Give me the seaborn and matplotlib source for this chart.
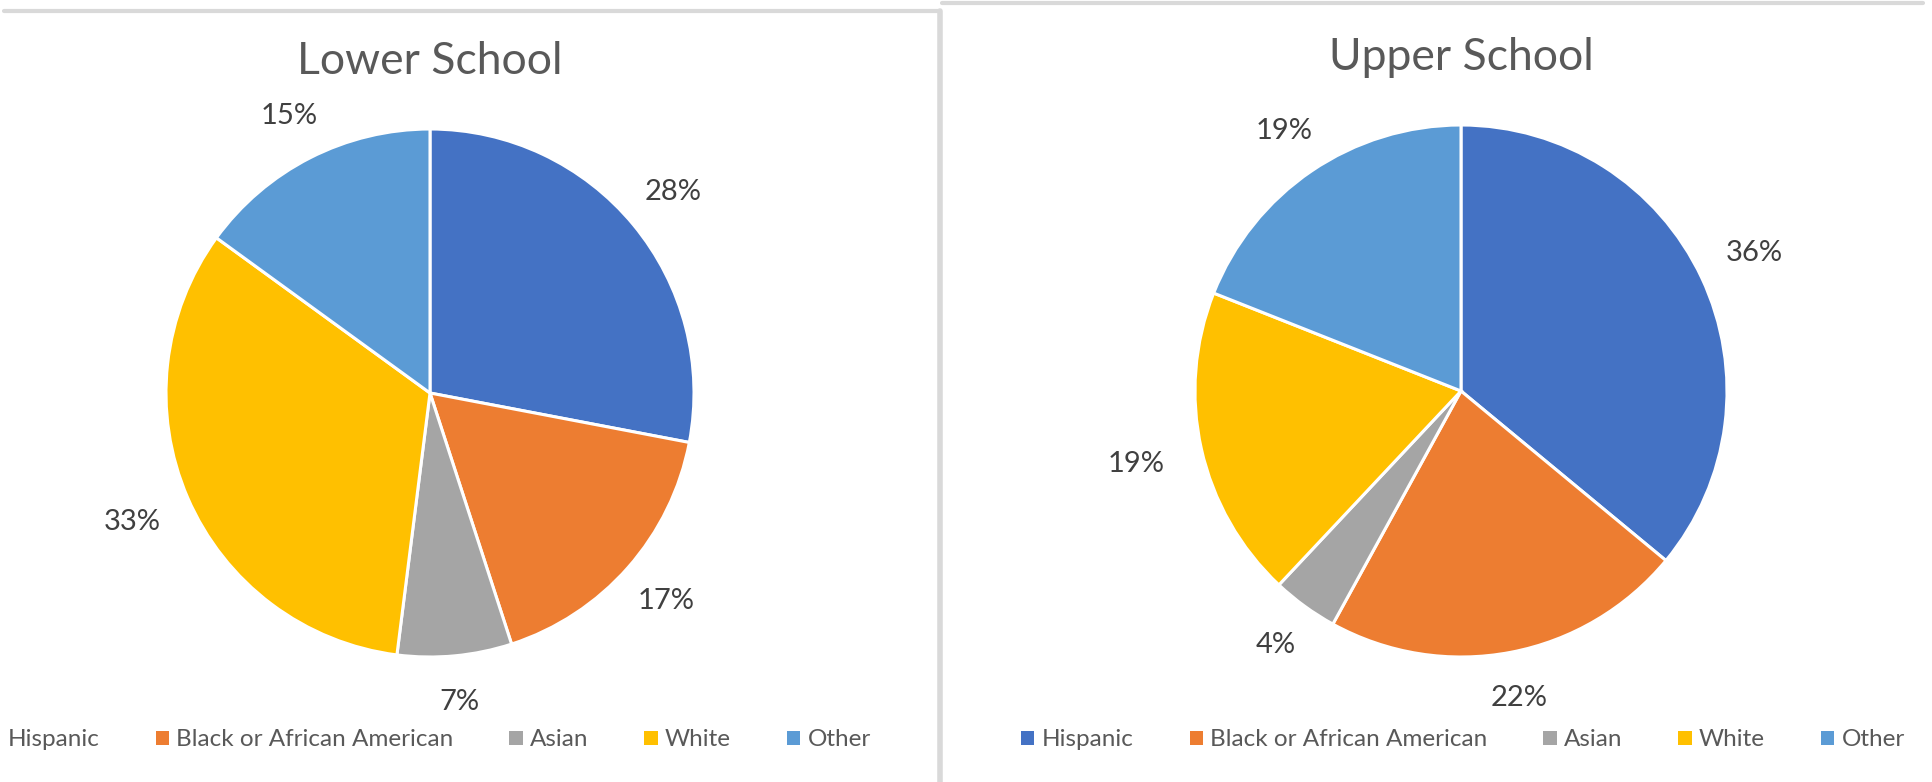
import numpy as np
import matplotlib
matplotlib.use("Agg")
import matplotlib.pyplot as plt
import seaborn as sns
from matplotlib.lines import Line2D
from matplotlib.patches import Patch

sns.set_theme(style="white")
plt.rcParams["font.family"] = ["Lato", "DejaVu Sans"]

groups = ["Hispanic", "Black or African American", "Asian", "White", "Other"]
lower_school = [28, 17, 7, 33, 15]
upper_school = [36, 22, 4, 19, 19]
titles = ["Lower School", "Upper School"]
colors = ["#4472C4", "#ED7D31", "#A5A5A5", "#FFC000", "#5B9BD5"]

W, H = 1933, 782
fig = plt.figure(figsize=(W / 100, H / 100), dpi=100)
fig.patch.set_facecolor("white")


def px_axes(cx, cy, r):
    # cx, cy in pixel coords measured from the top-left
    return fig.add_axes([(cx - r) / W, 1 - (cy + r) / H, 2 * r / W, 2 * r / H])


panels = [
    (lower_school, titles[0], 430, 393, 264, 61, 429),
    (upper_school, titles[1], 1461, 391, 266, 57, 1463),
]

all_labels = []
for values, title, cx, cy, r, ty, lx in panels:
    ax = px_axes(cx, cy, r)
    wedges, texts, autotexts = ax.pie(
        values,
        colors=colors,
        startangle=90,
        counterclock=False,
        autopct="%1.0f%%",
        pctdistance=1.2,
        radius=1,
        wedgeprops=dict(edgecolor="white", linewidth=2.2),
        textprops=dict(color="#404040", fontsize=21),
    )
    ax.set_xlim(-1, 1)
    ax.set_ylim(-1, 1)
    ax.set_aspect("equal")
    ax.axis("off")
    all_labels.append((r, autotexts))
    fig.text(cx / W, 1 - ty / H, title, ha="center", va="center",
             fontsize=32, color="#595959")

    handles = [Patch(facecolor=c, edgecolor="none") for c in colors]
    fig.legend(
        handles, groups, loc="center", ncol=5, frameon=False,
        bbox_to_anchor=(lx / W, 1 - 740 / H),
        fontsize=17.5, handlelength=0.55, handleheight=0.55,
        handletextpad=0.3, columnspacing=2.3, labelcolor="#595959",
    )

# keep a fixed gap between the pie edge and the nearest side of each label box
fig.canvas.draw()
renderer = fig.canvas.get_renderer()
gap = 0.14
for r, autotexts in all_labels:
    for t in autotexts:
        x, y = t.get_position()
        u = np.array([x, y]) / np.hypot(x, y)
        bb = t.get_window_extent(renderer)
        hw = bb.width / 2 / r
        hh = bb.height / 2 * 0.7 / r
        d = min(hw / max(abs(u[0]), 1e-6), hh / max(abs(u[1]), 1e-6))
        t.set_position(u * (1 + gap + d))

# panel borders
border = "#D9D9D9"
fig.add_artist(Line2D([4 / W, 940 / W], [1 - 11 / H, 1 - 11 / H], color=border, lw=3))
fig.add_artist(Line2D([940 / W, 940 / W], [1 - 11 / H, 0], color=border, lw=4))
fig.add_artist(Line2D([942 / W, 1923 / W], [1 - 3 / H, 1 - 3 / H], color=border, lw=3))

fig.savefig("out.png", dpi=100, facecolor="white")
